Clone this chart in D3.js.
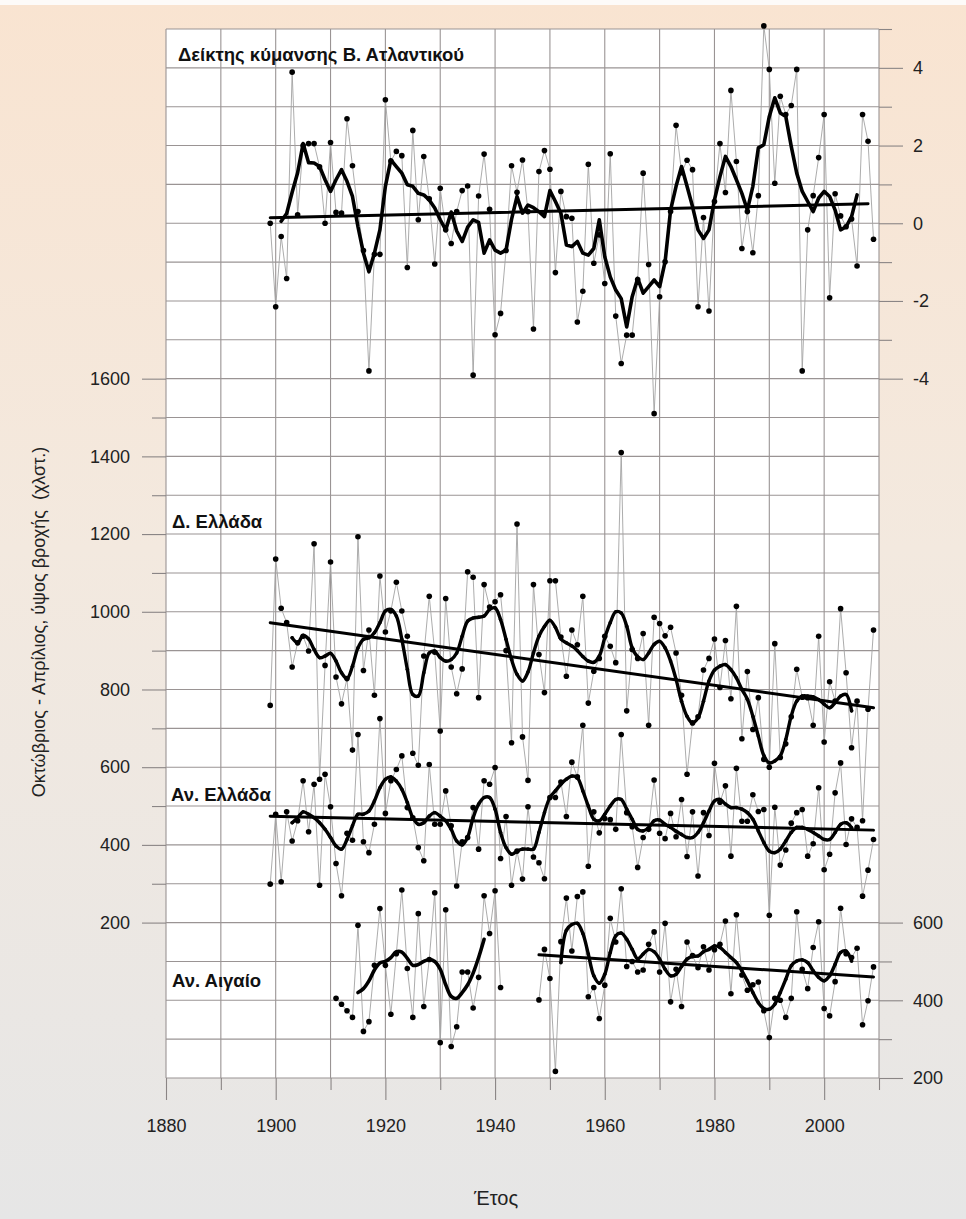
<!DOCTYPE html>
<html>
<head>
<meta charset="utf-8">
<script src="https://cdn.jsdelivr.net/npm/d3@7"></script>
<style>
  body { margin: 0; }
  svg { display: block; font-family: "Liberation Sans", Arial, sans-serif; }
</style>
</head>
<body>
<div id="chart"></div>
<script>
// ---- data ----
var firstYear = 1899;   // all full series run 1899-2009

// North Atlantic Oscillation index (right axis, top)
var nao = [0.0,
  -2.15, -0.34, -1.42, 3.89, 0.22, 2.0, 2.05, 2.05, 1.45, 0.0,
  2.08, 0.28, 0.26, 2.69, 1.48, 0.3, -0.7, -3.8, -0.8, -0.8,
  3.18, 1.6, 1.85, 1.74, -1.14, 2.39, 0.09, 1.72, 0.63, -1.05,
  0.9, -0.17, -0.52, 0.3, 0.84, 0.96, -3.91, 0.7, 1.78, 0.36,
  -2.87, -2.32, -0.7, 1.48, 0.8, 1.63, 0.3, -2.72, 1.33, 1.87,
  1.39, -1.27, 0.82, 0.17, 0.13, -2.54, -1.75, 1.52, -1.03, -0.3,
  -1.55, 1.79, -2.39, -3.61, -2.88, -2.88, -1.45, 1.29, -1.06, -4.9,
  -1.89, -0.99, 0.3, 2.52, 1.3, 1.62, 1.38, -2.15, 0.15, -2.26,
  0.56, 2.05, 0.79, 3.42, 1.59, -0.65, 0.3, -0.76, 0.71, 5.08,
  3.96, 1.03, 3.27, 2.8, 3.03, 3.96, -3.8, -0.17, 0.71, 1.69,
  2.8, -1.92, 0.76, 0.19, -0.09, 0.11, -1.1, 2.8, 2.11, -0.41];
var naoSmoothStart = 1901;
var naoSmooth = [0.05, 0.25, 0.8, 1.3, 2.05, 1.56, 1.55, 1.46, 1.12,
  0.82, 1.12, 1.38, 1.08, 0.69, -0.09, -0.77, -1.25, -0.77, -0.17,
  0.95, 1.63, 1.46, 1.29, 0.99, 0.95, 0.77, 0.73, 0.6, 0.39,
  0.09, -0.17, 0.29, -0.2, -0.47, -0.1, 0.09, 0.02, -0.77, -0.43,
  -0.69, -0.77, -0.69, 0.1, 0.69, 0.26, 0.47, 0.4, 0.3, 0.17,
  0.84, 0.56, 0.26, -0.56, -0.6, -0.47, -0.77, -0.82, -0.65, 0.09,
  -0.86, -1.38, -1.72, -1.94, -2.67, -1.89, -1.42, -1.8, -1.63, -1.46,
  -1.63, -0.99, 0.34, 0.95, 1.46, 0.95, 0.43, -0.17, -0.39, -0.17,
  0.6, 1.2, 1.72, 1.46, 1.12, 0.77, 0.34, 0.95, 1.94, 2.02,
  2.75, 3.23, 2.84, 2.75, 1.98, 1.29, 0.82, 0.56, 0.3, 0.65,
  0.82, 0.69, 0.34, -0.17, -0.09, 0.17, 0.73];
var naoTrend = [[1899, 0.14], [2008, 0.5]];

// West Greece, Oct-Apr rainfall, mm (left axis)
var westGr = [759,
  1136, 1009, 972, 858, 920, 937, 899, 1175, 569, 862,
  1128, 832, 763, 828, 644, 1193, 849, 953, 785, 1092,
  948, 1002, 1076, 1002, 937, 636, 605, 886, 1040, 896,
  693, 1034, 858, 789, 853, 1103, 1089, 779, 1070, 1012,
  1026, 1044, 900, 663, 1226, 678, 566, 1070, 890, 792,
  1080, 1080, 935, 834, 953, 915, 1040, 765, 847, 880,
  937, 911, 869, 1410, 745, 903, 880, 944, 708, 986,
  970, 938, 960, 894, 785, 582, 714, 730, 850, 880,
  930, 805, 926, 776, 1014, 673, 846, 697, 779, 620,
  600, 918, 625, 660, 730, 852, 780, 779, 708, 937,
  665, 820, 770, 1008, 843, 650, 770, 462, 749, 953];
var smoothStart = 1903;
var westSmooth = [933, 920, 939, 930, 903, 882, 886,
  893, 873, 843, 828, 860, 907, 929, 933, 946, 972,
  1002, 1006, 989, 929, 852, 787, 783, 843, 894, 899,
  882, 873, 877, 894, 937, 976, 984, 986, 989, 1006,
  1010, 980, 929, 877, 839, 822, 845, 894, 937, 962,
  978, 960, 930, 920, 912, 900, 885, 873, 870, 886,
  933, 972, 1000, 997, 963, 907, 884, 877, 894, 916,
  924, 907, 873, 826, 770, 731, 714, 727, 770, 822,
  850, 860, 864, 851, 830, 800, 775, 731, 680, 630,
  611, 616, 629, 671, 732, 770, 783, 783, 781, 774,
  762, 753, 766, 783, 787, 745];
var westTrend = [[1899, 972], [2009, 753]];

// East Greece (left axis)
var eastGr = [299,
  479, 305, 485, 410, 462, 565, 434, 556, 296, 582,
  498, 352, 269, 430, 412, 684, 408, 380, 453, 725,
  481, 565, 594, 629, 496, 470, 393, 359, 607, 453,
  453, 539, 449, 294, 408, 419, 496, 389, 565, 556,
  599, 365, 473, 296, 384, 312, 498, 369, 354, 313,
  522, 522, 562, 473, 613, 575, 708, 345, 485, 431,
  468, 465, 440, 684, 483, 447, 342, 419, 440, 567,
  430, 416, 481, 421, 517, 370, 485, 320, 483, 424,
  610, 510, 552, 371, 597, 461, 461, 529, 486, 491,
  219, 497, 348, 387, 456, 483, 491, 371, 403, 547,
  336, 376, 534, 611, 401, 467, 445, 268, 335, 414];
var eastSmooth = [457, 470, 485, 479, 470, 457, 440,
  419, 397, 389, 414, 449, 479, 479, 487, 513, 547,
  569, 575, 564, 543, 509, 470, 453, 457, 474, 483,
  474, 462, 440, 410, 400, 420, 470, 505, 522, 522,
  492, 432, 393, 376, 384, 389, 389, 389, 432, 483,
  522, 539, 556, 569, 577, 573, 539, 500, 466, 462,
  479, 500, 517, 517, 492, 466, 440, 436, 444, 462,
  464, 453, 445, 435, 427, 419, 419, 432, 457, 487,
  513, 517, 505, 496, 496, 492, 483, 466, 436, 406,
  384, 380, 389, 410, 432, 445, 445, 440, 432, 423,
  414, 414, 432, 453, 457, 444];
var eastTrend = [[1899, 474], [2009, 438]];

// East Aegean (right axis, bottom) - two record segments
var aegStart1 = 1911;
var aegean1 = [405, 390, 373, 356, 593, 320, 345, 490, 636,
  490, 364, 520, 684, 482, 356, 623, 384, 505, 677,
  291, 633, 281, 332, 473, 473, 380, 459, 669, 572,
  682, 433];
var aegStart2 = 1948;
var aegean2 = [401, 531,
  456, 217, 551, 663, 527, 667, 679, 409, 433, 353,
  439, 611, 550, 687, 487, 500, 473, 478, 544, 576,
  473, 598, 396, 480, 384, 550, 515, 484, 538, 478,
  530, 544, 604, 417, 620, 465, 426, 440, 447, 373,
  304, 405, 400, 356, 405, 628, 480, 430, 536, 602,
  379, 360, 448, 637, 520, 510, 534, 337, 399, 486];
var aegSmoothStart1 = 1915;
var aegSmooth1 = [420, 430, 450, 478, 496, 500, 510, 525, 524, 508, 490, 492,
  500, 505, 500, 480, 440, 410, 405, 420, 440, 470, 510, 557];
var aegSmoothStart2 = 1952;
var aegSmooth2 = [497, 580, 595, 598, 572, 519, 463, 444,
  467, 523, 566, 573, 557, 531, 507, 519, 531, 525,
  506, 480, 463, 467, 487, 506, 513, 514, 525, 531,
  540, 536, 523, 510, 497, 476, 450, 420, 394, 379,
  377, 390, 420, 454, 489, 501, 504, 497, 476, 459,
  450, 463, 493, 523, 527, 501];
var aegTrend = [[1948, 517], [2009, 460]];

// ticks
var yearLabels = [1880, 1900, 1920, 1940, 1960, 1980, 2000];
var yearMinor = [1890, 1910, 1930, 1950, 1970, 1990, 2010];
var mmLabels = [200, 400, 600, 800, 1000, 1200, 1400, 1600];
var mmMinor = [300, 500, 700, 900, 1100, 1300, 1500];
var naoLabels = [4, 2, 0, -2, -4];
var naoMinor = [5, 3, 1, -1, -3];
var aegLabels = [200, 400, 600];
var aegMinor = [300, 500];

// ---- drawing ----
var width = 966, height = 1219;
var svg = d3.select("#chart").append("svg")
    .attr("width", width)
    .attr("height", height);

var grad = svg.append("defs").append("linearGradient")
    .attr("id", "bg").attr("x1", 0).attr("y1", 0).attr("x2", 0).attr("y2", 1);
grad.append("stop").attr("offset", "0%").attr("stop-color", "#f9e4d1");
grad.append("stop").attr("offset", "45%").attr("stop-color", "#f3e9df");
grad.append("stop").attr("offset", "100%").attr("stop-color", "#e6e6e6");

svg.append("rect").attr("width", width).attr("height", height).attr("fill", "url(#bg)");
svg.append("rect").attr("width", width).attr("height", 5).attr("fill", "#fdfbf9");

var x = d3.scaleLinear().domain([1880, 2010]).range([166, 879]);
var yL = d3.scaleLinear().domain([-200, 2500]).range([1078, 29]);   // mm
var yN = d3.scaleLinear().domain([-22, 5]).range([1078, 29]);       // NAO index
var yA = d3.scaleLinear().domain([200, 2900]).range([1078, 29]);    // Aegean mm

// plot area
svg.append("rect")
    .attr("x", x(1880)).attr("y", yL(2500))
    .attr("width", x(2010) - x(1880)).attr("height", yL(-200) - yL(2500))
    .attr("fill", "#ffffff");

var grid = svg.append("g").attr("stroke", "#9a9494").attr("stroke-width", 1.1);
grid.selectAll(".v").data(d3.range(1880, 2011, 10)).enter().append("line")
    .attr("x1", function(d){ return x(d); }).attr("x2", function(d){ return x(d); })
    .attr("y1", yL(2500)).attr("y2", yL(-200));
grid.selectAll(".h").data(d3.range(-200, 2501, 100)).enter().append("line")
    .attr("x1", x(1880)).attr("x2", x(2010))
    .attr("y1", function(d){ return yL(d); }).attr("y2", function(d){ return yL(d); });

// axes
function styleAxis(g) {
  g.select(".domain").remove();
  g.selectAll(".tick line").attr("stroke", "#8a8585").attr("stroke-width", 1.1);
  g.selectAll(".tick text").attr("fill", "#222").style("font-size", "18px");
}
var fmt = function(d){ return String(d); };

svg.append("g").attr("transform", "translate(0,1078)")
    .call(d3.axisBottom(x).tickValues(yearLabels).tickSize(22).tickPadding(19).tickFormat(fmt))
    .call(styleAxis);
svg.append("g").attr("transform", "translate(0,1078)")
    .call(d3.axisBottom(x).tickValues(yearMinor).tickSize(12).tickFormat(""))
    .call(styleAxis);

svg.append("g").attr("transform", "translate(166,0)")
    .call(d3.axisLeft(yL).tickValues(mmLabels).tickSize(24).tickPadding(12).tickFormat(fmt))
    .call(styleAxis);
svg.append("g").attr("transform", "translate(166,0)")
    .call(d3.axisLeft(yL).tickValues(mmMinor).tickSize(14).tickFormat(""))
    .call(styleAxis);

svg.append("g").attr("transform", "translate(879,0)")
    .call(d3.axisRight(yN).tickValues(naoLabels).tickSize(24).tickPadding(10).tickFormat(fmt))
    .call(styleAxis);
svg.append("g").attr("transform", "translate(879,0)")
    .call(d3.axisRight(yN).tickValues(naoMinor).tickSize(13).tickFormat(""))
    .call(styleAxis);
svg.append("g").attr("transform", "translate(879,0)")
    .call(d3.axisRight(yA).tickValues(aegLabels).tickSize(24).tickPadding(10).tickFormat(fmt))
    .call(styleAxis);
svg.append("g").attr("transform", "translate(879,0)")
    .call(d3.axisRight(yA).tickValues(aegMinor).tickSize(13).tickFormat(""))
    .call(styleAxis);

// series helpers
function pairs(start, vals) {
  return vals.map(function(v, i){ return [start + i, v]; });
}
function drawRaw(vals, start, yScale) {
  var pts = pairs(start, vals);
  svg.append("path").datum(pts)
      .attr("fill", "none").attr("stroke", "#a3a3a3").attr("stroke-width", 0.9)
      .attr("d", d3.line().x(function(d){ return x(d[0]); }).y(function(d){ return yScale(d[1]); }));
  return pts;
}
function drawThick(pts, yScale, w, curve) {
  svg.append("path").datum(pts)
      .attr("fill", "none").attr("stroke", "#000").attr("stroke-width", w)
      .attr("stroke-linejoin", "round").attr("stroke-linecap", "round")
      .attr("d", d3.line().curve(curve || d3.curveLinear)
          .x(function(d){ return x(d[0]); }).y(function(d){ return yScale(d[1]); }));
}
function drawDots(pts, yScale, r) {
  svg.append("g").selectAll("circle").data(pts).enter().append("circle")
      .attr("cx", function(d){ return x(d[0]); })
      .attr("cy", function(d){ return yScale(d[1]); })
      .attr("r", r).attr("fill", "#000");
}

// thin yearly lines
var naoPts = drawRaw(nao, firstYear, yN);
var westPts = drawRaw(westGr, firstYear, yL);
var eastPts = drawRaw(eastGr, firstYear, yL);
var aeg1Pts = drawRaw(aegean1, aegStart1, yA);
var aeg2Pts = drawRaw(aegean2, aegStart2, yA);

// trend lines
drawThick(naoTrend, yN, 3);
drawThick(westTrend, yL, 3);
drawThick(eastTrend, yL, 3);
drawThick(aegTrend, yA, 3);

// smoothed curves
var westS = pairs(smoothStart, westSmooth);
var eastS = pairs(smoothStart, eastSmooth);
var aegS1 = pairs(aegSmoothStart1, aegSmooth1);
var aegS2 = pairs(aegSmoothStart2, aegSmooth2);
drawThick(pairs(naoSmoothStart, naoSmooth), yN, 3.6);
drawThick(westS, yL, 3.4, d3.curveCatmullRom);
drawThick(eastS, yL, 3.4, d3.curveCatmullRom);
drawThick(aegS1, yA, 3.6, d3.curveCatmullRom);
drawThick(aegS2, yA, 3.4, d3.curveCatmullRom);
drawDots(westS, yL, 1.8);
drawDots(eastS, yL, 1.8);
drawDots(aegS2, yA, 1.8);

// yearly dots
drawDots(naoPts, yN, 2.8);
drawDots(westPts, yL, 2.8);
drawDots(eastPts, yL, 2.8);
drawDots(aeg1Pts, yA, 2.8);
drawDots(aeg2Pts, yA, 2.8);

// labels
var labels = [
  {t: "Δείκτης κύμανσης Β. Ατλαντικού", x: 178, y: 61},
  {t: "Δ. Ελλάδα", x: 172, y: 528},
  {t: "Αν. Ελλάδα", x: 171, y: 801},
  {t: "Αν. Αιγαίο", x: 172, y: 987}
];
svg.selectAll(".lab").data(labels).enter().append("text")
    .attr("x", function(d){ return d.x; }).attr("y", function(d){ return d.y; })
    .attr("fill", "#111").style("font-size", "18.5px").style("font-weight", "bold")
    .text(function(d){ return d.t; });

svg.append("text")
    .attr("transform", "translate(45,622) rotate(-90)")
    .attr("text-anchor", "middle").attr("fill", "#222")
    .style("font-size", "18px").style("white-space", "pre")
    .text("Οκτώβριος - Απρίλιος, ύψος βροχής  (χλστ.)");

svg.append("text")
    .attr("x", 496).attr("y", 1205)
    .attr("text-anchor", "middle").attr("fill", "#222")
    .style("font-size", "20px")
    .text("Έτος");
</script>
</body>
</html>
